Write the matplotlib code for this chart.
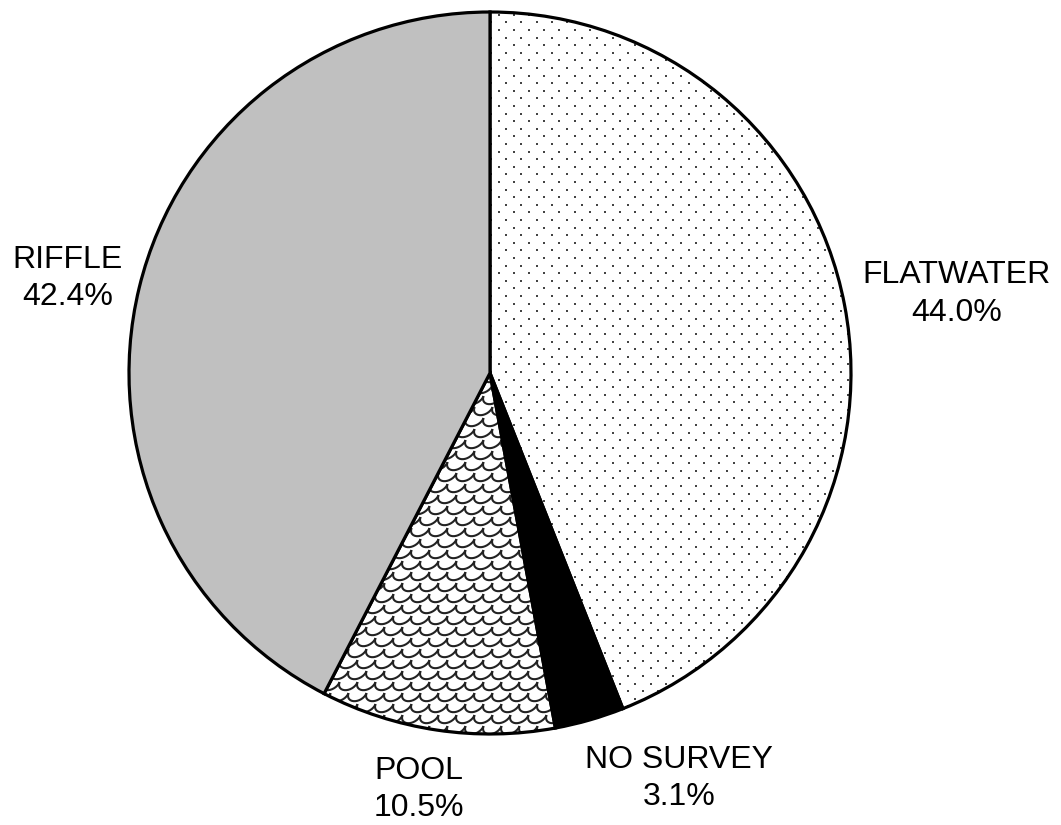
import numpy as np
import matplotlib
matplotlib.use("Agg")
import matplotlib.pyplot as plt
from matplotlib.collections import LineCollection

plt.rcParams['font.family'] = ['Liberation Sans', 'DejaVu Sans']

categories = ["FLATWATER", "NO SURVEY", "POOL", "RIFFLE"]
shares = [44.0, 3.1, 10.5, 42.4]

W, H, DPI = 1061, 825, 100
fig = plt.figure(figsize=(W / DPI, H / DPI), dpi=DPI)
ax = fig.add_axes([0, 0, 1, 1])

# pixel layout of the pie: centre and radius
cx, cy, rad = 490.0, 373.0, 361.0

face = ['white', 'black', 'white', '#c0c0c0']
wedges, _ = ax.pie(shares, startangle=90, counterclock=False, colors=face,
                   wedgeprops=dict(edgecolor='black', linewidth=2.3, zorder=4),
                   radius=1.0, center=(0, 0), frame=True)
ax.set_xlim(-cx / rad, (W - cx) / rad)
ax.set_ylim(-(H - cy) / rad, cy / rad)
ax.set_aspect('equal')
ax.axis('off')

# textured wedges get a transparent face so the texture shows beneath the outline
for i in (0, 2):
    wedges[i].set_facecolor('none')

px = 1.0 / rad  # one pixel in data units

# dotted texture for FLATWATER
xs, ys = [], []
for row, y in enumerate(np.arange(-1.05, 1.05, 7.6 * px)):
    off = 0 if row % 2 == 0 else 7.6 * px
    for x in np.arange(-1.05 + off, 1.05, 15.2 * px):
        xs.append(x)
        ys.append(y)
dots = ax.scatter(xs, ys, s=2.4, marker='s', color='#444444', linewidths=0, zorder=3)
dots.set_clip_path(wedges[0])

# fish-scale texture for POOL
segs = []
t = np.linspace(np.pi, 2 * np.pi, 16)
r_s = 9.0 * px
for row, y in enumerate(np.arange(-1.1, 0.2, 11.0 * px)):
    off = 0 if row % 2 == 0 else 9.0 * px
    for x in np.arange(-0.6 + off, 0.4, 18 * px):
        segs.append(np.column_stack([x + r_s * np.cos(t) + 0.35 * r_s * (np.sin(t) + 1),
                                     y + 0.9 * r_s * np.sin(t)]))
scales = LineCollection(segs, colors='#222222', linewidths=1.5, zorder=3)
ax.add_collection(scales)
scales.set_clip_path(wedges[2])

# labels
dist = [1.31, 1.24, 1.17, 1.20]
nudge = [-1.2, 9.0, -1.2, 1.1]
start = 90.0
for name, val, d, n in zip(categories, shares, dist, nudge):
    span = val * 3.6
    mid = np.deg2rad(start - span / 2 + n)
    start -= span
    ax.text(d * np.cos(mid), d * np.sin(mid), f"{name}\n{val:.1f}%",
            ha='center', va='center', fontsize=23, linespacing=1.33, color='black')

fig.savefig("out.png", dpi=DPI)
